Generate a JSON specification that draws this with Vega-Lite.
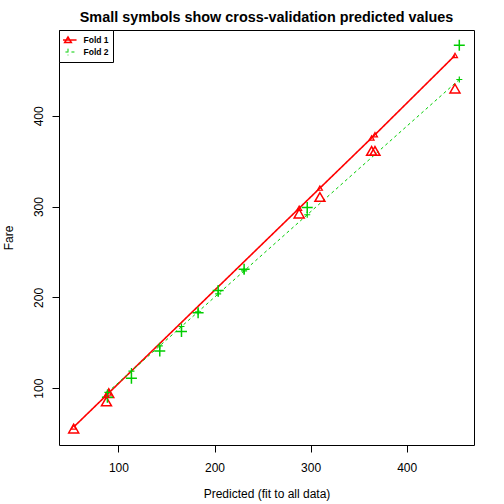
{
  "$schema": "https://vega.github.io/schema/vega-lite/v6.json",
  "width": 415,
  "height": 415,
  "autosize": "none",
  "padding": {"left": 59, "top": 30, "right": 30, "bottom": 59},
  "background": "white",
  "title": {
    "text": "Small symbols show cross-validation predicted values",
    "font": "Liberation Sans",
    "fontSize": 14.4,
    "fontWeight": "bold",
    "color": "black",
    "anchor": "middle",
    "frame": "group",
    "baseline": "alphabetic",
    "offset": 9,
    "dy": 16
  },
  "config": {
    "view": {"stroke": "black", "strokeWidth": 1},
    "axis": {
      "domain": false,
      "grid": false,
      "ticks": true,
      "tickColor": "black",
      "tickSize": 7,
      "labelFont": "Liberation Sans",
      "labelFontSize": 12,
      "labelColor": "black",
      "titleFont": "Liberation Sans",
      "titleFontSize": 12,
      "titleFontWeight": "normal",
      "titleColor": "black"
    }
  },
  "data": {
    "values": [
      {"fold": "Fold 1", "x": 53.4, "y": 55.5, "cv": 57.2},
      {"fold": "Fold 1", "x": 87.5, "y": 85.3, "cv": 92.2},
      {"fold": "Fold 1", "x": 89.9, "y": 94.5, "cv": 94.7},
      {"fold": "Fold 1", "x": 288.1, "y": 292.3, "cv": 298.2},
      {"fold": "Fold 1", "x": 309.7, "y": 310.6, "cv": 320.4},
      {"fold": "Fold 1", "x": 363.5, "y": 361.3, "cv": 375.6},
      {"fold": "Fold 1", "x": 367.0, "y": 361.3, "cv": 379.2},
      {"fold": "Fold 1", "x": 450.3, "y": 430.0, "cv": 466.5},
      {"fold": "Fold 2", "x": 88.5, "y": 90.1, "cv": 95.3},
      {"fold": "Fold 2", "x": 113.5, "y": 111.0, "cv": 118.8},
      {"fold": "Fold 2", "x": 143.0, "y": 140.8, "cv": 146.6},
      {"fold": "Fold 2", "x": 165.6, "y": 162.5, "cv": 167.9},
      {"fold": "Fold 2", "x": 182.9, "y": 183.1, "cv": 184.1},
      {"fold": "Fold 2", "x": 203.8, "y": 207.7, "cv": 203.8},
      {"fold": "Fold 2", "x": 230.8, "y": 230.9, "cv": 229.2},
      {"fold": "Fold 2", "x": 296.5, "y": 298.9, "cv": 291.0},
      {"fold": "Fold 2", "x": 454.8, "y": 477.8, "cv": 440.0}
    ]
  },
  "encoding": {
    "x": {
      "field": "x",
      "type": "quantitative",
      "scale": {"domain": [38.1, 470.1], "nice": false, "zero": false},
      "axis": {"title": "Predicted (fit to all data)", "values": [100, 200, 300, 400], "labelPadding": 10, "titlePadding": 15}
    },
    "color": {
      "field": "fold",
      "type": "nominal",
      "scale": {"domain": ["Fold 1", "Fold 2"], "range": ["#FF0000", "#00CD00"]},
      "legend": {
        "title": null,
        "orient": "top-left",
        "offset": 0,
        "strokeColor": "black",
        "fillColor": "white",
        "padding": 4,
        "symbolSize": 81,
        "symbolStrokeWidth": 1.2,
        "symbolOffset": -0.5,
        "labelOffset": 10,
        "clipHeight": 12,
        "labelFont": "Liberation Sans",
        "labelFontSize": 8.5,
        "labelFontWeight": "bold",
        "labelColor": "black",
        "rowPadding": 0,
        "encode": {
          "symbols": {
            "update": {
              "shape": [
                {"test": "datum.value === 'Fold 1'", "value": "M-1.9,0H1.9M0,-0.65L0.72,0.55H-0.72Z"},
                {"value": "M-1.9,0H1.9M0,-0.75V0.75"}
              ],
              "strokeDash": [
                {"test": "datum.value === 'Fold 2'", "value": [3, 2]},
                {"value": []}
              ],
              "fill": {"value": "transparent"}
            }
          }
        }
      }
    }
  },
  "layer": [
    {
      "mark": {"type": "line"},
      "encoding": {
        "y": {"field": "cv", "type": "quantitative", "scale": {"domain": [37.4, 494.5], "nice": false, "zero": false}, "axis": {"title": "Fare", "values": [100, 200, 300, 400], "labelAngle": 270, "labelAlign": "center", "labelBaseline": "alphabetic", "labelPadding": 9.6, "titleAngle": 270, "titleBaseline": "alphabetic", "titlePadding": 20}},
        "strokeDash": {"field": "fold", "type": "nominal", "scale": {"domain": ["Fold 1", "Fold 2"], "range": [[1, 0], [3, 3]]}, "legend": null},
        "strokeWidth": {"field": "fold", "type": "nominal", "scale": {"domain": ["Fold 1", "Fold 2"], "range": [1.6, 1]}, "legend": null}
      }
    },
    {
      "transform": [{"filter": "datum.fold === 'Fold 1'"}],
      "mark": {"type": "point", "filled": false, "strokeWidth": 1.5, "opacity": 1, "shape": "triangle-up", "size": 100},
      "encoding": {"y": {"field": "y", "type": "quantitative"}}
    },
    {
      "transform": [{"filter": "datum.fold === 'Fold 2'"}],
      "mark": {"type": "point", "filled": false, "strokeWidth": 1.5, "opacity": 1, "shape": "M-1,0H1M0,-1V1", "size": 121},
      "encoding": {"y": {"field": "y", "type": "quantitative"}}
    },
    {
      "transform": [{"filter": "datum.fold === 'Fold 1'"}],
      "mark": {"type": "point", "filled": false, "strokeWidth": 1.2, "opacity": 1, "shape": "triangle-up", "size": 25},
      "encoding": {"y": {"field": "cv", "type": "quantitative"}}
    },
    {
      "transform": [{"filter": "datum.fold === 'Fold 2'"}],
      "mark": {"type": "point", "filled": false, "strokeWidth": 1.2, "opacity": 1, "shape": "M-1,0H1M0,-1V1", "size": 36},
      "encoding": {"y": {"field": "cv", "type": "quantitative"}}
    }
  ]
}
